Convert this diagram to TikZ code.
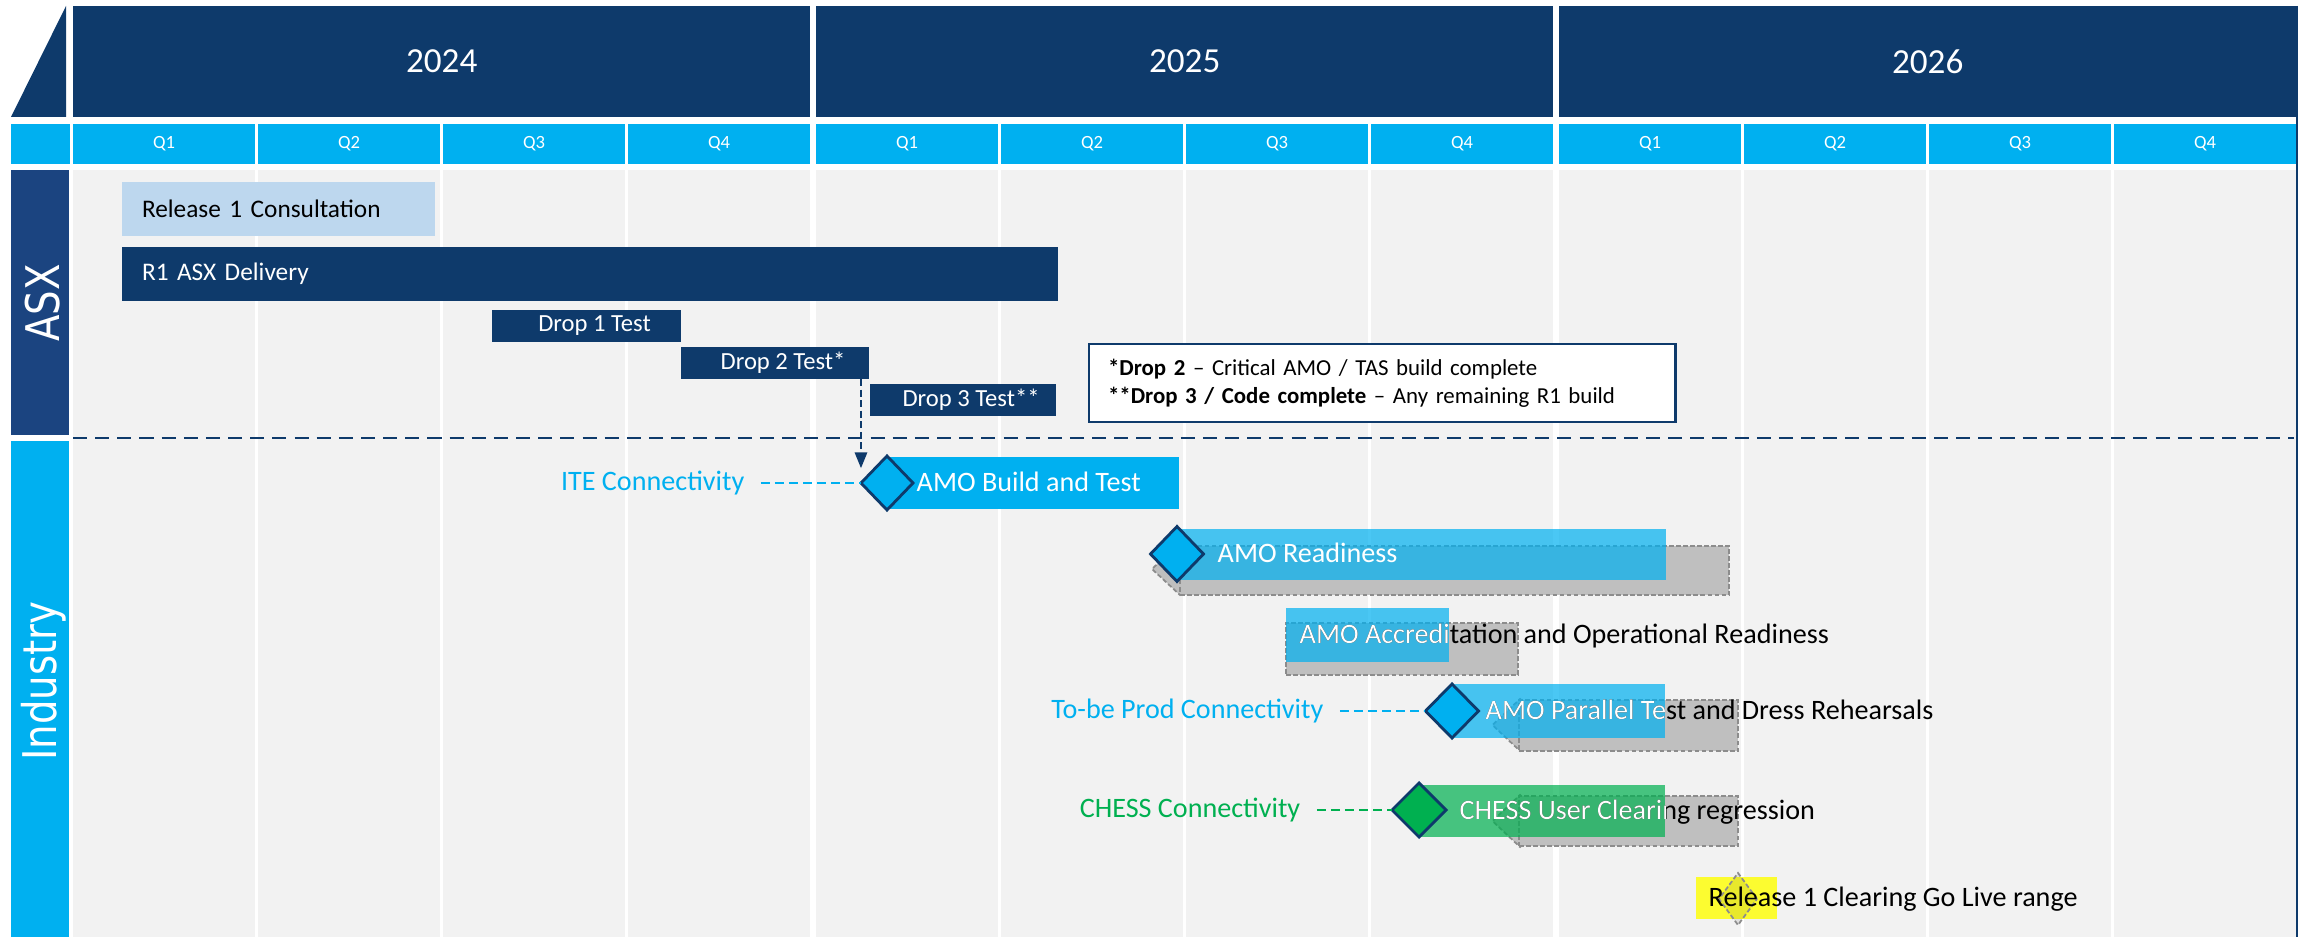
\documentclass[tikz,border=0pt]{standalone}
\usepackage{graphicx}
\usepackage{fontspec}
\setmainfont{Carlito}
\newfontfamily\sidefont{DejaVu Sans}
\usetikzlibrary{arrows.meta,shapes.geometric}
\definecolor{navy}{HTML}{0E3A6B}
\definecolor{sidenavy}{HTML}{1B4480}
\definecolor{skyblue}{HTML}{00B0F0}
\definecolor{paleblue}{HTML}{BDD7EE}
\definecolor{lanegrey}{HTML}{F2F2F2}
\definecolor{plangrey}{HTML}{BFBFBF}
\definecolor{planline}{HTML}{8C8C8C}
\definecolor{chessgreen}{HTML}{00B050}
\definecolor{golive}{HTML}{FCFC30}

% label that turns white where it runs over its bar
\newcommand\splitlabel[4]{%
  \node[tasklabel, text=black] (#1) at #3 {#4};
  \begin{scope}
    \clip (#2.south west) rectangle (#2.north east);
    \node[tasklabel, text=white] (#1-w) at #3 {#4};
  \end{scope}}

\tikzset{
  cell/.style={inner sep=0pt, outer sep=0pt, anchor=north west},
  yearbox/.style={cell, fill=navy, text=white, font=\fontsize{10}{12}\selectfont,
    minimum width=7.37cm, minimum height=1.11cm},
  qbox/.style={cell, fill=skyblue, text=white, font=\fontsize{5.3}{6}\selectfont,
    minimum width=1.82cm, minimum height=0.40cm},
  asxbar/.style={cell, fill=navy, text=white, inner xsep=0.2cm, align=left,
    minimum height=0.54cm, font=\fontsize{7.2}{8}\selectfont},
  dropbar/.style={cell, fill=navy, text=white, inner xsep=0pt,
    minimum height=0.32cm, font=\fontsize{7}{8}\selectfont},
  planbar/.style={cell, fill=plangrey, draw=planline, line width=0.5pt,
    dash pattern=on 1.3pt off 0.7pt},
  planstone/.style={diamond, inner sep=0pt, outer sep=0pt, fill=plangrey,
    draw=planline, line width=0.5pt, dash pattern=on 1.3pt off 0.7pt},
  workbar/.style={cell, fill=skyblue, fill opacity=0.71},
  milestone/.style={diamond, inner sep=0pt, outer sep=0pt, draw=navy,
    line width=0.8pt, fill=skyblue},
  tasklabel/.style={anchor=west, inner sep=0pt, font=\fontsize{8}{9}\selectfont,
    text height=5.2pt, text depth=1.2pt},
  sidelabel/.style={rotate=90, anchor=base, inner sep=0pt, text=white,
    font=\sidefont\fontsize{11}{12}\selectfont},
  link/.style={line width=0.6pt, dash pattern=on 2.5pt off 1.5pt, shorten <=4.5pt},
}

\begin{document}
\begin{tikzpicture}[x=0.01cm,y=-0.01cm]
  \useasboundingbox (0,0) rectangle (2305,937);

  % quarter lanes and header
  \foreach \q in {0,...,11}{
    \pgfmathtruncatemacro\yi{int(\q/4)}
    \pgfmathtruncatemacro\qn{mod(\q,4)+1}
    \pgfmathsetmacro\xa{73+185*\q+3*\yi}
    \fill[lanegrey] (\xa,170) rectangle ++(182,767);
    \node[qbox] (q\q) at (\xa,124) {Q\qn};
  }
  \foreach \yr [count=\i from 0] in {2024,2025,2026}
    \node[yearbox] (y\yr) at (73+743*\i,6) {\yr};
  \fill[navy] (11,117) -- (66,117) -- (66,6) -- cycle;
  \fill[skyblue] (11,124) rectangle (70,164);
  \draw[navy, line width=0.6pt] (2297,6) -- (2297,937);

  % swimlane headings
  \node[cell, fill=sidenavy, minimum width=0.58cm, minimum height=2.65cm] (asxlane) at (11,170) {};
  \node[cell, fill=skyblue, minimum width=0.58cm, minimum height=4.96cm] (indlane) at (11,441) {};
  \node[sidelabel] (asxname) at (59,303) {\scalebox{1}[1.2]{ASX}};
  \node[sidelabel] (indname) at (57,681) {\scalebox{1}[1.2]{Industry}};

  % ASX work
  \node[asxbar, fill=paleblue, text=black, minimum width=3.13cm, text width=2.73cm]
    (consult) at (122,182) {Release 1 Consultation};
  \node[asxbar, minimum width=9.35cm, text width=8.95cm]
    (delivery) at (122,247) {R1 ASX Delivery};
  \node[dropbar, minimum width=1.89cm] (d1) at (492,310) {\hspace{0.16cm}Drop 1 Test};
  \node[dropbar, minimum width=1.88cm] (d2) at (681,347) {\hspace{0.16cm}Drop 2 Test*};
  \node[dropbar, minimum width=1.86cm] (d3) at (870,384) {\hspace{0.16cm}Drop 3 Test**};

  \node[cell, draw=navy, line width=0.7pt, fill=white, inner xsep=0.19cm,
    minimum width=5.86cm, minimum height=0.78cm, text width=5.48cm, align=left,
    font=\fontsize{6.5}{8}\selectfont] (notes) at (1089,344)
    {\textbf{*Drop 2} -- Critical AMO / TAS build complete\\
     \textbf{**Drop 3 / Code complete} -- Any remaining R1 build};

  \draw[navy, line width=0.85pt, dash pattern=on 4pt off 2.3pt] (73,438) -- (2294,438);

  % industry work: baseline plan first, then current bars
  \node[planstone, minimum width=0.56cm, minimum height=0.52cm] (rdplan) at (1180,569) {};
  \node[planbar, minimum width=5.49cm, minimum height=0.49cm] (rplan) at (1180,546) {};
  \node[planbar, minimum width=2.32cm, minimum height=0.52cm] (aplan) at (1286,623) {};
  \node[planstone, minimum width=0.55cm, minimum height=0.52cm] (pdplan) at (1520,725) {};
  \node[planbar, minimum width=2.19cm, minimum height=0.51cm] (pplan) at (1519,700) {};
  \node[planstone, minimum width=0.55cm, minimum height=0.52cm] (cdplan) at (1520,821) {};
  \node[planbar, minimum width=2.19cm, minimum height=0.50cm] (cplan) at (1519,796) {};

  \node[cell, fill=skyblue, minimum width=2.93cm, minimum height=0.52cm] (build) at (886,457) {};
  \node[workbar, minimum width=4.89cm, minimum height=0.51cm] (ready) at (1177,529) {};
  \node[workbar, minimum width=1.63cm, minimum height=0.54cm] (accred) at (1286,608) {};
  \node[workbar, minimum width=2.13cm, minimum height=0.54cm] (parallel) at (1452,684) {};
  \node[workbar, fill=chessgreen, minimum width=2.46cm, minimum height=0.52cm] (chess) at (1419,785) {};

  \node[milestone, minimum width=0.52cm, minimum height=0.54cm] (bd) at (887,483) {};
  \node[milestone, minimum width=0.53cm, minimum height=0.55cm] (rd) at (1177,554) {};
  \node[milestone, minimum width=0.53cm, minimum height=0.54cm] (pd) at (1452,711) {};
  \node[milestone, fill=chessgreen, minimum width=0.54cm, minimum height=0.54cm] (cd) at (1419,810) {};

  \node[tasklabel, text=white] (bt) at (916,484) {AMO Build and Test};
  \node[tasklabel, text=white] (rt) at (1217,555) {AMO Readiness};
  \splitlabel{at}{accred}{(1299,636)}{AMO Accreditation and Operational Readiness}
  \splitlabel{pt}{parallel}{(1485,712)}{AMO Parallel Test and Dress Rehearsals}
  \splitlabel{ct}{chess}{(1459,812)}{CHESS User Clearing regression}

  % connectivity lead-ins
  \node[tasklabel, anchor=east, text=skyblue] (ite) at (745,483) {ITE Connectivity};
  \node[tasklabel, anchor=east, text=skyblue] (tobe) at (1324,711) {To-be Prod Connectivity};
  \node[tasklabel, anchor=east, text=chessgreen] (chessconn) at (1301,810) {CHESS Connectivity};
  \draw[skyblue, link] (ite.east) -- (bd.west);
  \draw[skyblue, link] (tobe.east) -- (pd.west);
  \draw[chessgreen, link] (chessconn.east) -- (cd.west);

  \draw[navy, line width=0.6pt, dash pattern=on 2pt off 1pt,
    -{Triangle[length=4.5pt,width=3.5pt]}, shorten >=4.2pt] (d2.south -| bd.west) -- (bd.west);

  % go live window
  \node[cell, fill=golive, minimum width=0.81cm, minimum height=0.42cm] (window) at (1696,877) {};
  \node[planstone, fill=black, fill opacity=0.08, minimum width=0.38cm, minimum height=0.52cm]
    (golivestone) at (1738,899) {};
  \node[tasklabel] (gt) at (1708,899) {Release 1 Clearing Go Live range};
\end{tikzpicture}
\end{document}
